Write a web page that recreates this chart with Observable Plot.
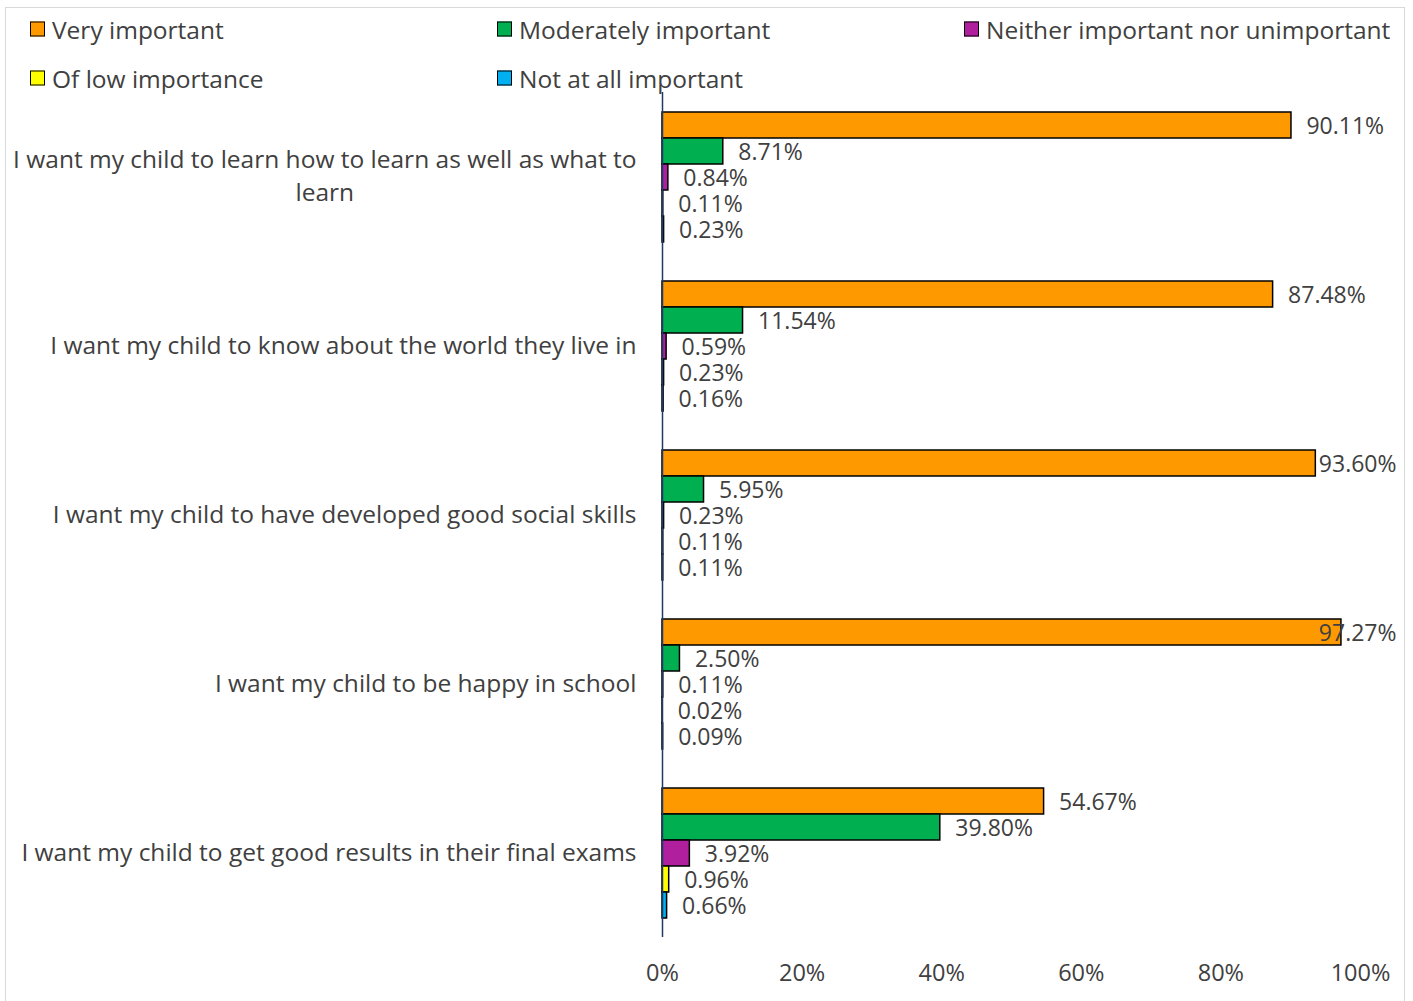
<!DOCTYPE html>
<html><head><meta charset="utf-8">
<script src="https://cdn.jsdelivr.net/npm/d3@7"></script>
<script src="https://cdn.jsdelivr.net/npm/@observablehq/plot@0.6"></script>
<style>
body{margin:0;background:#fff;}
#wrap{position:relative;width:1413px;height:1001px;overflow:hidden;font-family:"Open Sans",sans-serif;}
#frame{position:absolute;left:5px;top:7px;width:1400px;height:1000px;border:1.5px solid #d9d9d9;box-sizing:border-box;}
#chart{position:absolute;left:0;top:0;}
#legend{position:absolute;left:0;top:0;width:1413px;height:100px;}
.li{position:absolute;display:flex;align-items:center;font-size:24.5px;color:#404040;white-space:nowrap;transform:translateY(-50%);}
.sw{width:15px;height:15px;border:1.5px solid #000;box-sizing:border-box;margin-right:7px;}
</style></head>
<body>
<div id="wrap"><div id="frame"></div><div id="chart"></div><div id="legend"></div></div>
<script>
const categories = [
  "I want my child to learn how to learn as well as what to learn",
  "I want my child to know about the world they live in",
  "I want my child to have developed good social skills",
  "I want my child to be happy in school",
  "I want my child to get good results in their final exams"
];
const series = ["Very important","Moderately important","Neither important nor unimportant","Of low importance","Not at all important"];
const colors = ["#FF9900","#00B050","#B0209E","#FFFF00","#00B0F0"];
const veryImportant = [90.11, 87.48, 93.60, 97.27, 54.67];
const moderatelyImportant = [8.71, 11.54, 5.95, 2.50, 39.80];
const neitherImportant = [0.84, 0.59, 0.23, 0.11, 3.92];
const lowImportance = [0.11, 0.23, 0.11, 0.02, 0.96];
const notAtAllImportant = [0.23, 0.16, 0.11, 0.09, 0.66];
const xTicks = [0, 0.2, 0.4, 0.6, 0.8, 1];

const values = [veryImportant, moderatelyImportant, neitherImportant, lowImportance, notAtAllImportant];
const table = categories.flatMap((c, i) => series.map((s, j) => ({category: c, series: s, value: values[j][i] / 100})));
const fmt = d => (d.value * 100).toFixed(2) + "%";

const catSize = 24.5;
// wrapped first category label
const wrapped = {[categories[0]]: ["I want my child to learn how to learn as well as what to", "learn"]};
const ctx = document.createElement("canvas").getContext("2d");
ctx.font = catSize + "px 'Open Sans'";
const catLabels = categories.map(c => {
  if (wrapped[c]) {
    const w = ctx.measureText(wrapped[c][0]).width;
    return {category: c, text: wrapped[c].join("\n"), anchor: "middle", dx: -26 - w / 2};
  }
  return {category: c, text: c, anchor: "end", dx: -26};
});

const chart = Plot.plot({
  width: 1413, height: 1001,
  marginLeft: 662, marginRight: 53, marginTop: 92, marginBottom: 64,
  style: {fontFamily: "'Open Sans', sans-serif", fontSize: "23.5px", color: "#404040", background: "transparent"},
  x: {domain: [0, 1], ticks: xTicks, tickFormat: d => Math.round(d * 100) + "%", tickSize: 0, tickPadding: 27, label: null},
  fy: {domain: categories, padding: 0, axis: null},
  y: {domain: series, paddingInner: 0, paddingOuter: 0.75, axis: null},
  color: {domain: series, range: colors},
  marks: [
    Plot.barX(table, {fy: "category", y: "series", x: "value", fill: "series", stroke: "#000", strokeWidth: 1.5}),
    Plot.text(table.filter(d => d.value <= 0.92), {fy: "category", y: "series", x: "value", text: fmt, dx: 15, dy: 1, textAnchor: "start", fontSize: 23, fill: "#404040"}),
    Plot.text(table.filter(d => d.value > 0.92), {fy: "category", y: "series", frameAnchor: "right", text: fmt, dx: 36, dy: 1, textAnchor: "end", fontSize: 23, fill: "#404040"}),
    ...catLabels.map(l => Plot.text([l], {fy: "category", frameAnchor: "left", text: "text", dx: l.dx, dy: -3, textAnchor: l.anchor, lineHeight: 1.35, fontSize: catSize, fill: "#404040"})),
    Plot.ruleX([0], {stroke: "#203864", strokeWidth: 1.5})
  ]
});
document.getElementById("chart").appendChild(chart);

const legend = document.getElementById("legend");
series.forEach((s, i) => {
  const col = i % 3, row = Math.floor(i / 3);
  const item = document.createElement("div");
  item.className = "li";
  item.style.left = (30 + col * 467) + "px";
  item.style.top = (29 + row * 49) + "px";
  const sw = document.createElement("div");
  sw.className = "sw";
  sw.style.background = colors[i];
  item.appendChild(sw);
  item.appendChild(document.createTextNode(s));
  legend.appendChild(item);
});
</script>
</body></html>
